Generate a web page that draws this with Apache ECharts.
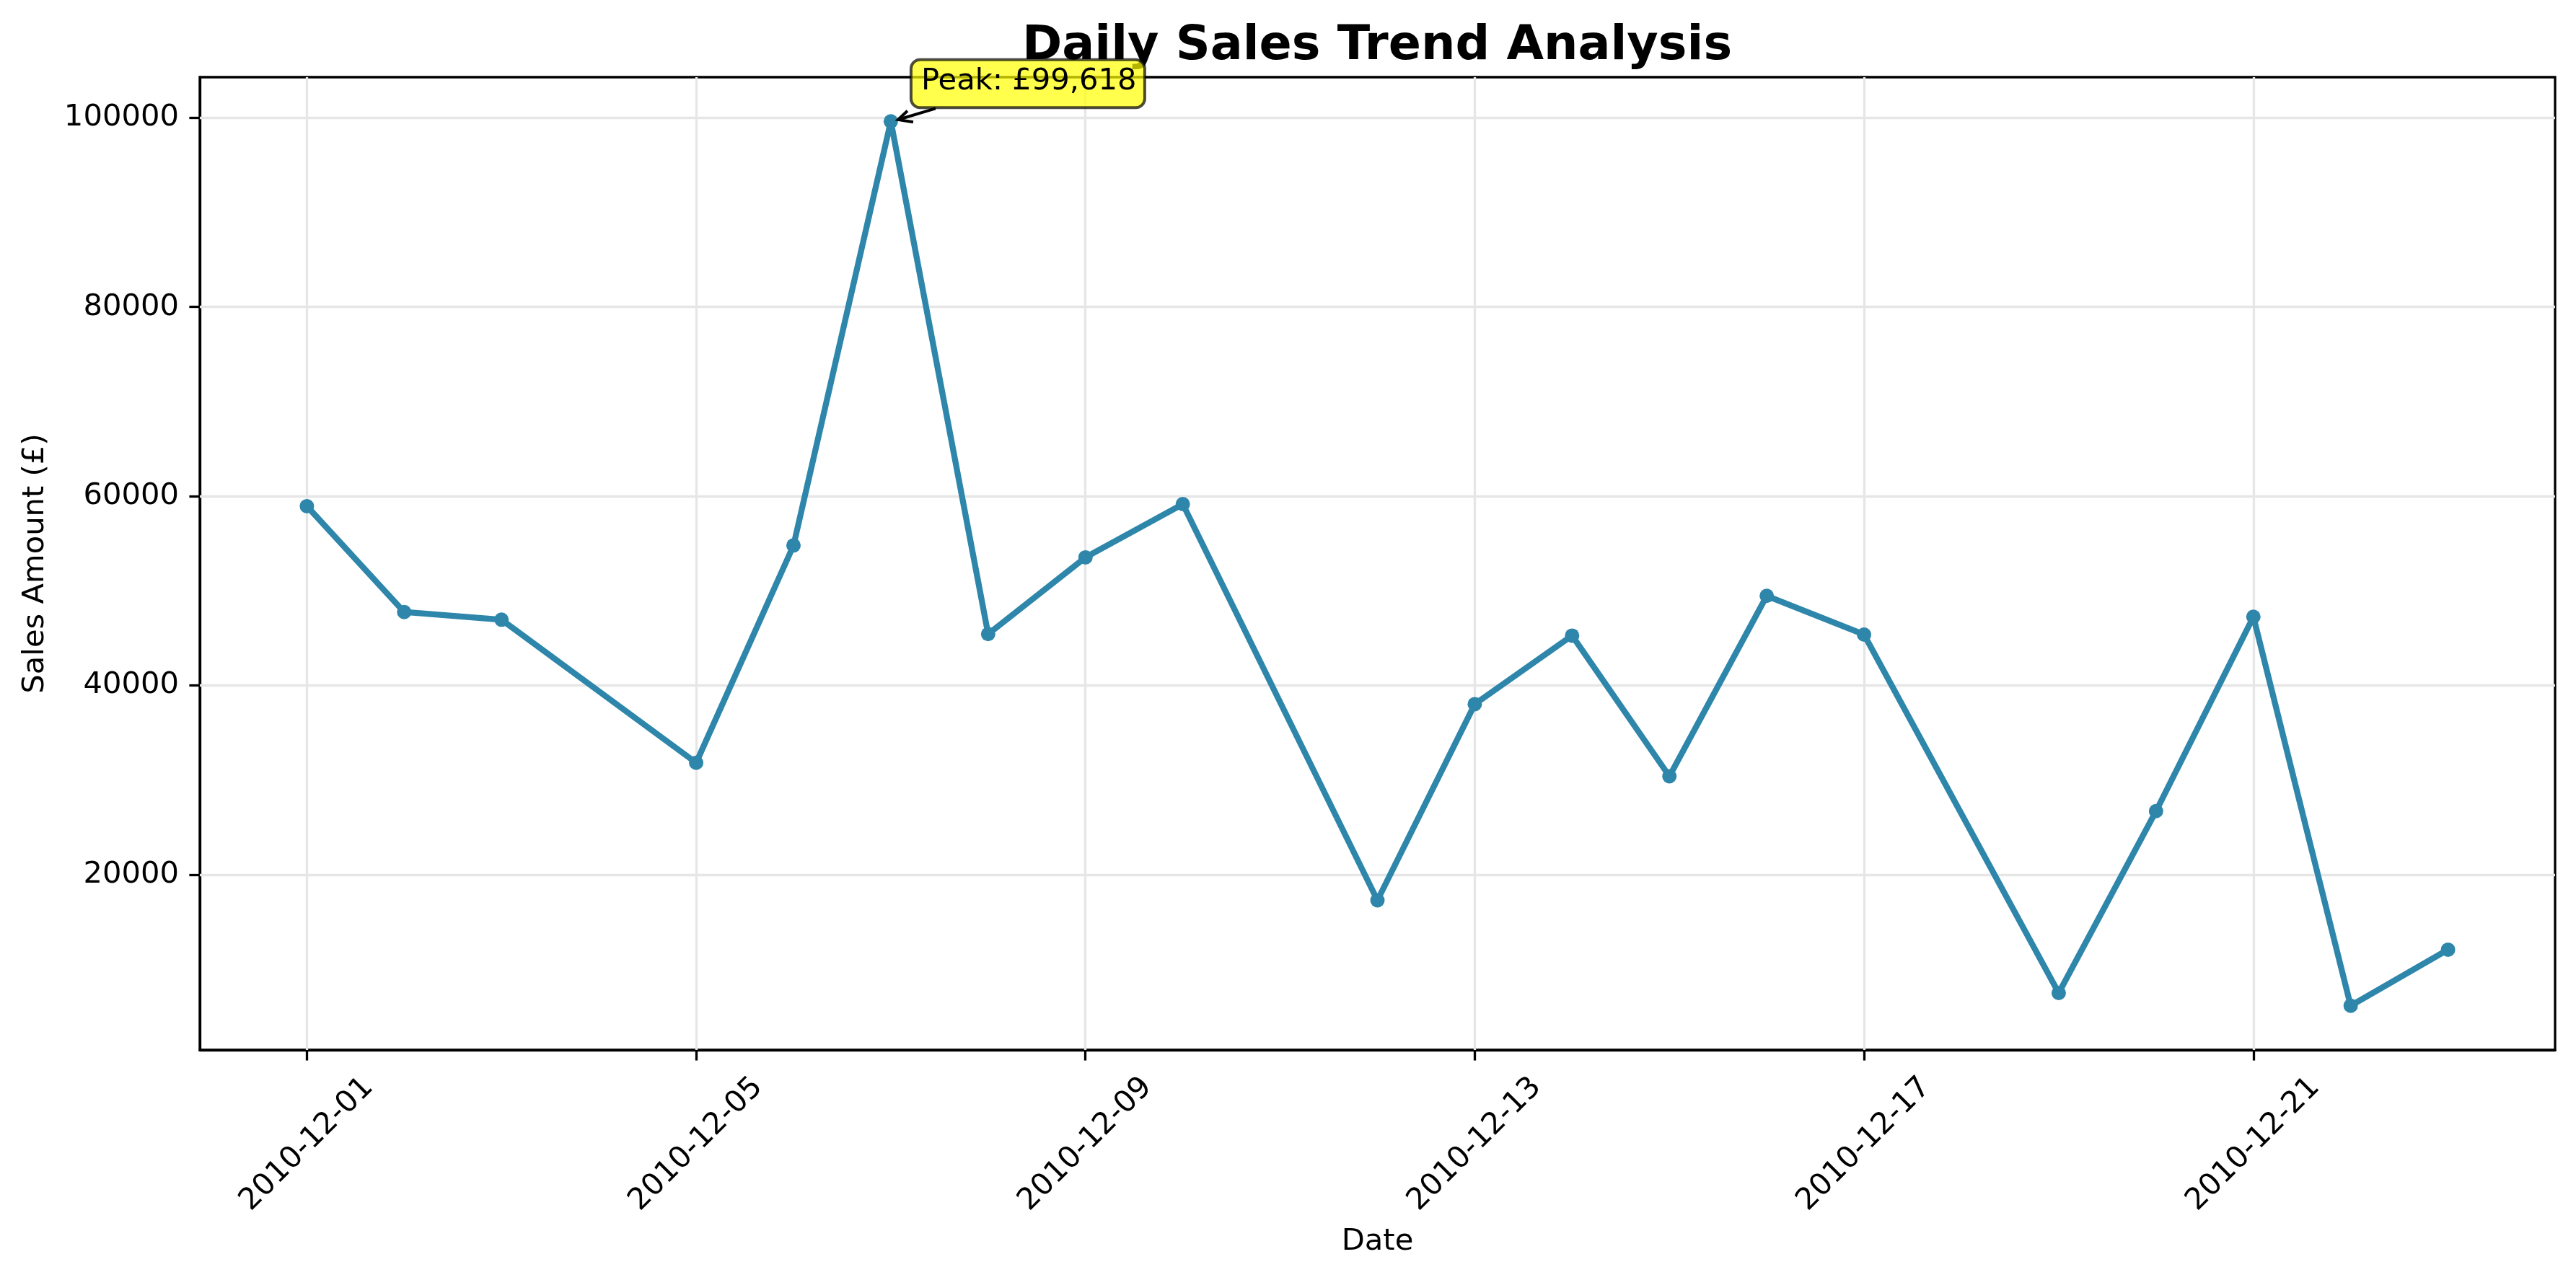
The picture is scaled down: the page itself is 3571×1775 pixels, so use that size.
<!DOCTYPE html>
<html>
<head>
<meta charset="utf-8">
<script src="https://cdn.jsdelivr.net/npm/echarts@6/dist/echarts.min.js"></script>
<style>
html,body{margin:0;padding:0;background:#fff;}
#chart{width:3571px;height:1775px;}
</style>
</head>
<body>
<div id="chart"></div>
<script>
// ---- data ----
const dates = ['2010-12-01','2010-12-02','2010-12-03','2010-12-05','2010-12-06','2010-12-07','2010-12-08',
  '2010-12-09','2010-12-10','2010-12-12','2010-12-13','2010-12-14','2010-12-15','2010-12-16','2010-12-17',
  '2010-12-19','2010-12-20','2010-12-21','2010-12-22','2010-12-23'];
const sales = [58950, 47760, 46950, 31830, 54800, 99618, 45430, 53540, 59170, 17290,
  38030, 45270, 30400, 49470, 45380, 7500, 26720, 47260, 6150, 12080];
const xTickDates = ['2010-12-01','2010-12-05','2010-12-09','2010-12-13','2010-12-17','2010-12-21'];
const yTicks = [20000, 40000, 60000, 80000, 100000];

const DAY = 86400000;
function ts(s){ const p = s.split('-').map(Number); return Date.UTC(p[0], p[1]-1, p[2]); }
function fmt(v){ const d = new Date(v); const m = d.getUTCMonth()+1, dd = d.getUTCDate();
  return d.getUTCFullYear() + '-' + (m<10?'0':'') + m + '-' + (dd<10?'0':'') + dd; }

const points = dates.map((d,i)=>[ts(d), sales[i]]);
const xs = points.map(p=>p[0]);
const xMin = Math.min(...xs), xMax = Math.max(...xs);
const yMinD = Math.min(...sales), yMaxD = Math.max(...sales);
const xPad = 0.05*(xMax-xMin), yPad = 0.05*(yMaxD-yMinD);
const peakIdx = sales.indexOf(yMaxD);

const FONT = 'DejaVu Sans';
const FS = 41.7;
const chart = echarts.init(document.getElementById('chart'), null, {renderer:'canvas'});

chart.setOption({
  animation: false,
  backgroundColor: '#ffffff',
  title: {
    text: 'Daily Sales Trend Analysis',
    left: 1909, top: 31, padding: 0, textAlign: 'center',
    textStyle: {fontFamily: FONT, fontSize: 66.7, fontWeight: 'bold', color: '#000'}
  },
  grid: {left: 277, right: 29, top: 107, bottom: 319, show: true, borderColor: '#000', borderWidth: 3.3, backgroundColor: 'transparent', containLabel: false},
  xAxis: {
    type: 'value',
    min: xMin - xPad, max: xMax + xPad,
    name: 'Date', nameLocation: 'middle', nameGap: 245,
    nameTextStyle: {fontFamily: FONT, fontSize: FS, color: '#000'},
    axisLine: {show: true, lineStyle: {color: '#000', width: 3.3}},
    axisTick: {show: true, customValues: xTickDates.map(ts), length: 14.6, lineStyle: {color: '#000', width: 3.3}},
    axisLabel: {show: true, customValues: xTickDates.map(ts), rotate: 45, align: 'center', verticalAlign: 'middle', margin: 131,
      formatter: v => fmt(v), fontFamily: FONT, fontSize: FS, color: '#000'},
    splitLine: {show: false}
  },
  yAxis: {
    type: 'value',
    min: yMinD - yPad, max: yMaxD + yPad,
    name: 'Sales Amount (£)', nameLocation: 'middle', nameGap: 207,
    nameTextStyle: {fontFamily: FONT, fontSize: FS, color: '#000'},
    axisLine: {show: true, lineStyle: {color: '#000', width: 3.3}},
    axisTick: {show: true, customValues: yTicks, length: 14.6, lineStyle: {color: '#000', width: 3.3}},
    axisLabel: {show: true, customValues: yTicks, margin: 29, formatter: v => String(v),
      fontFamily: FONT, fontSize: FS, color: '#000'},
    splitLine: {show: false}
  },
  series: [
    {
      type: 'line', z: 1, zlevel: 0, silent: true, data: points, symbol: 'none',
      lineStyle: {opacity: 0}, itemStyle: {opacity: 0},
      markLine: {
        z: 1, silent: true, symbol: ['none','none'], label: {show: false}, animation: false,
        lineStyle: {color: '#e6e6e6', width: 3.3, type: 'solid'},
        emphasis: {disabled: true},
        data: xTickDates.map(d=>({xAxis: ts(d)})).concat(yTicks.map(v=>({yAxis: v})))
      }
    },
    {
      type: 'line', z: 10, zlevel: 0, data: points,
      symbol: 'circle', symbolSize: 20, showAllSymbol: true,
      lineStyle: {color: '#2E86AB', width: 8.3},
      itemStyle: {color: '#2E86AB', borderWidth: 0},
      emphasis: {disabled: true}
    }
  ]
});

const p = chart.convertToPixel({seriesIndex: 1}, points[peakIdx]);
const px = p[0], py = p[1];
chart.setOption({
  graphic: [
    {type: 'rect', z: 100, shape: {x: px+28, y: py-85.6, width: 324, height: 66.6, r: 12.5},
      style: {fill: 'rgba(255,255,0,0.7)', stroke: 'rgba(0,0,0,0.7)', lineWidth: 4}},
    {type: 'text', z: 101, x: px+42, y: py-55,
      style: {text: 'Peak: £' + yMaxD.toLocaleString('en-US'), fontFamily: FONT, fontSize: FS, fill: '#000',
        align: 'left', verticalAlign: 'middle'}},
    {type: 'line', z: 101, shape: {x1: px+62, y1: py-18, x2: px+10, y2: py-2.3},
      style: {stroke: '#000', lineWidth: 4}},
    {type: 'polyline', z: 101, shape: {points: [[px+31, py+1], [px+10, py-2.3], [px+23, py-14.6]]},
      style: {stroke: '#000', lineWidth: 4, fill: null}}
  ]
});
</script>
</body>
</html>
